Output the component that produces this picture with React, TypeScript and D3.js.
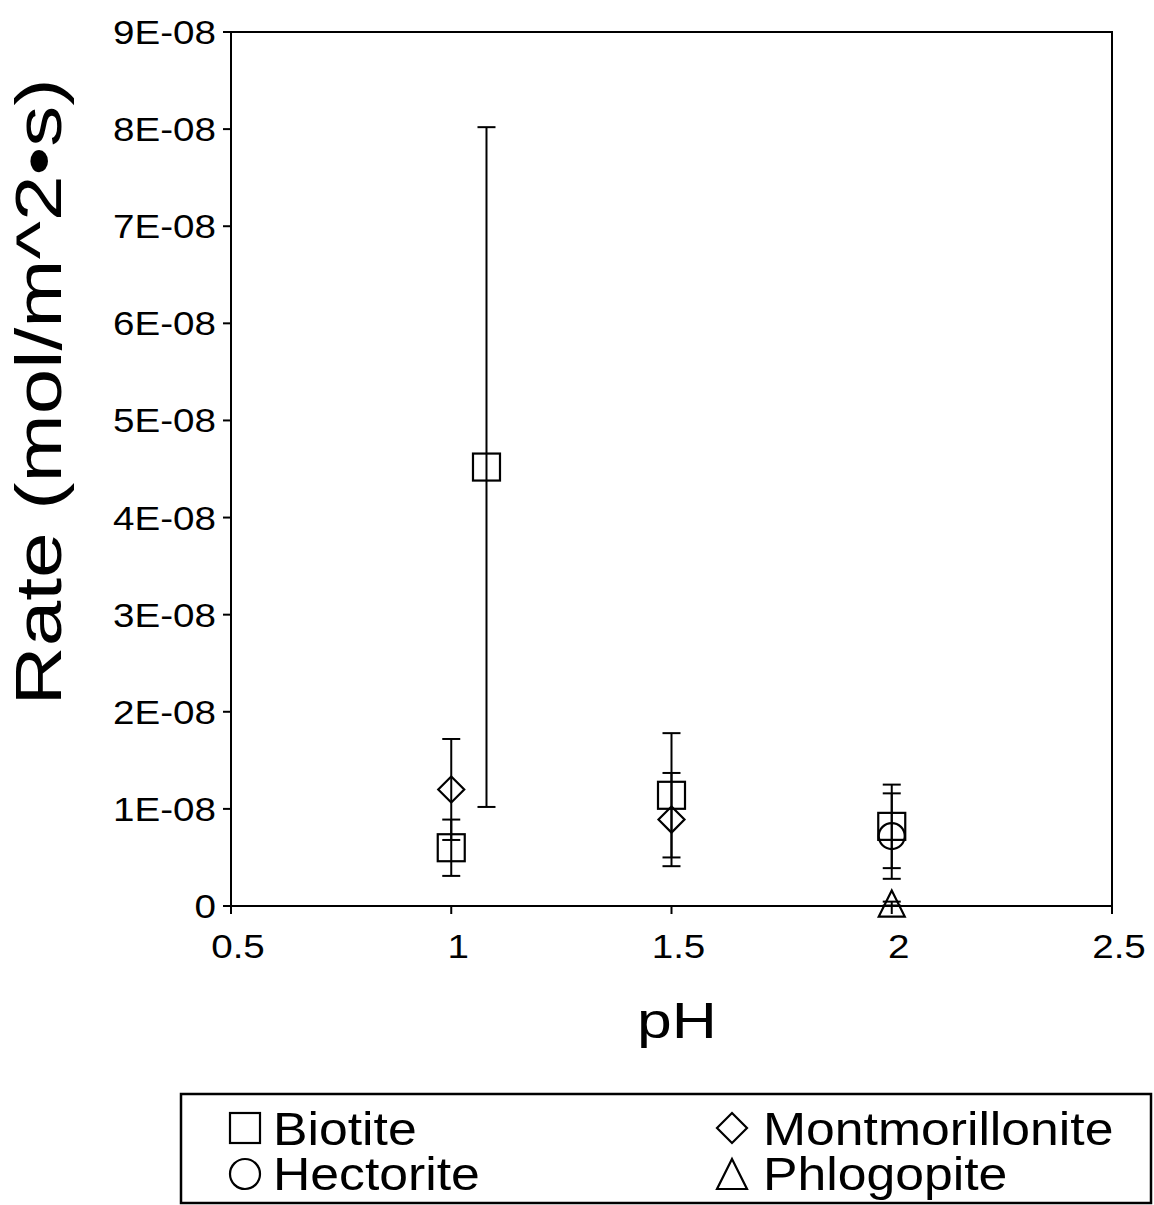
import React from "react";
import * as d3 from "d3";

const biotitePH = [1, 1.08, 1.5, 2];
const biotiteRate = [6.0e-9, 4.52e-8, 1.14e-8, 8.2e-9];
const biotiteErr = [2.9e-9, 3.5e-8, 6.4e-9, 4.3e-9];

const montPH = [1, 1.5];
const montRate = [1.2e-8, 8.9e-9];
const montErr = [5.2e-9, 4.8e-9];

const hectPH = [2];
const hectRate = [7.2e-9];
const hectErr = [4.4e-9];

const phlogPH = [2];
const phlogRate = [2.5e-10];
const phlogErr = [2.0e-10];

const xTicks = [0.5, 1, 1.5, 2, 2.5];
const xTickLabels = ["0.5", "1", "1.5", "2", "2.5"];
const yTicks = [0, 1e-8, 2e-8, 3e-8, 4e-8, 5e-8, 6e-8, 7e-8, 8e-8, 9e-8];
const yTickLabels = ["0", "1E-08", "2E-08", "3E-08", "4E-08", "5E-08", "6E-08", "7E-08", "8E-08", "9E-08"];

type Shape = "square" | "diamond" | "circle" | "triangle";

const seriesNames = ["Biotite", "Montmorillonite", "Hectorite", "Phlogopite"];

const W = 1154;
const H = 1205;
const left = 231, right = 1112, top = 32, bottom = 906;
const FONT = "'Liberation Sans', Arial, sans-serif";
const SX = 1.17;

function Marker({ shape, cx, cy, s }: { shape: Shape; cx: number; cy: number; s: number }) {
  const h = s / 2;
  const common = { fill: "none", stroke: "#000", strokeWidth: 2.2 };
  if (shape === "square") return <rect x={cx - h} y={cy - h} width={s} height={s} {...common} />;
  if (shape === "circle") return <circle cx={cx} cy={cy} r={h} {...common} />;
  if (shape === "diamond")
    return <path d={`M${cx},${cy - h}L${cx + h},${cy}L${cx},${cy + h}L${cx - h},${cy}Z`} {...common} />;
  return <path d={`M${cx},${cy - h}L${cx + h},${cy + h}L${cx - h},${cy + h}Z`} {...common} />;
}

export default function App() {
  const x = d3.scaleLinear().domain([0.5, 2.5]).range([left, right]);
  const y = d3.scaleLinear().domain([0, 9e-8]).range([bottom, top]);

  const series: { shape: Shape; ph: number[]; v: number[]; e: number[] }[] = [
    { shape: "square", ph: biotitePH, v: biotiteRate, e: biotiteErr },
    { shape: "diamond", ph: montPH, v: montRate, e: montErr },
    { shape: "circle", ph: hectPH, v: hectRate, e: hectErr },
    { shape: "triangle", ph: phlogPH, v: phlogRate, e: phlogErr },
  ];

  const cap = 9;
  const legendItems: { shape: Shape; name: string; mx: number; my: number; tx: number; ty: number }[] = [
    { shape: "square", name: seriesNames[0], mx: 245, my: 1128, tx: 273, ty: 1145 },
    { shape: "diamond", name: seriesNames[1], mx: 732, my: 1128, tx: 763, ty: 1145 },
    { shape: "circle", name: seriesNames[2], mx: 245, my: 1174, tx: 273, ty: 1190 },
    { shape: "triangle", name: seriesNames[3], mx: 732, my: 1174, tx: 763, ty: 1190 },
  ];

  return (
    <svg width={W} height={H} style={{ position: "absolute", left: 0, top: 0, background: "#fff" }} fontFamily={FONT}>
      <rect x={0} y={0} width={W} height={H} fill="#fff" />
      {/* frame */}
      <rect x={left} y={top} width={right - left} height={bottom - top} fill="none" stroke="#000" strokeWidth={2} />
      {/* y ticks */}
      {yTicks.map((t, i) => (
        <g key={"y" + i}>
          <line x1={left - 8} x2={left} y1={y(t)} y2={y(t)} stroke="#000" strokeWidth={2} />
          <text
            transform={`translate(${left - 15},${y(t) + 12}) scale(${SX},1)`}
            textAnchor="end"
            fontSize={33}
          >
            {yTickLabels[i]}
          </text>
        </g>
      ))}
      {/* x ticks */}
      {xTicks.map((t, i) => (
        <g key={"x" + i}>
          <line x1={x(t)} x2={x(t)} y1={bottom} y2={bottom + 8} stroke="#000" strokeWidth={2} />
          <text
            transform={`translate(${x(t) + 7},${bottom + 52}) scale(${SX},1)`}
            textAnchor="middle"
            fontSize={33}
          >
            {xTickLabels[i]}
          </text>
        </g>
      ))}
      {/* axis titles */}
      <text transform={`translate(677,1038) scale(1.25,1)`} textAnchor="middle" fontSize={50}>
        pH
      </text>
      <text transform={`translate(61,392) rotate(-90) scale(1.28,1)`} textAnchor="middle" fontSize={64}>
        Rate (mol/m^2•s)
      </text>
      {/* error bars */}
      {series.map((s, si) =>
        s.ph.map((p, i) => {
          const cx = x(p);
          const y1 = y(s.v[i] + s.e[i]);
          const y2 = y(s.v[i] - s.e[i]);
          return (
            <g key={`e${si}-${i}`} stroke="#000" strokeWidth={2}>
              <line x1={cx} x2={cx} y1={y1} y2={y2} />
              <line x1={cx - cap} x2={cx + cap} y1={y1} y2={y1} />
              <line x1={cx - cap} x2={cx + cap} y1={y2} y2={y2} />
            </g>
          );
        })
      )}
      {/* markers */}
      {series.map((s, si) =>
        s.ph.map((p, i) => (
          <Marker key={`m${si}-${i}`} shape={s.shape} cx={x(p)} cy={y(s.v[i])} s={s.shape === "square" ? 27 : 26} />
        ))
      )}
      {/* legend */}
      <rect x={181} y={1094} width={970} height={109} fill="none" stroke="#000" strokeWidth={2.5} />
      {legendItems.map((l, i) => (
        <g key={"l" + i}>
          <Marker shape={l.shape} cx={l.mx} cy={l.my} s={30} />
          <text transform={`translate(${l.tx},${l.ty}) scale(1.1,1)`} fontSize={47}>
            {l.name}
          </text>
        </g>
      ))}
    </svg>
  );
}
